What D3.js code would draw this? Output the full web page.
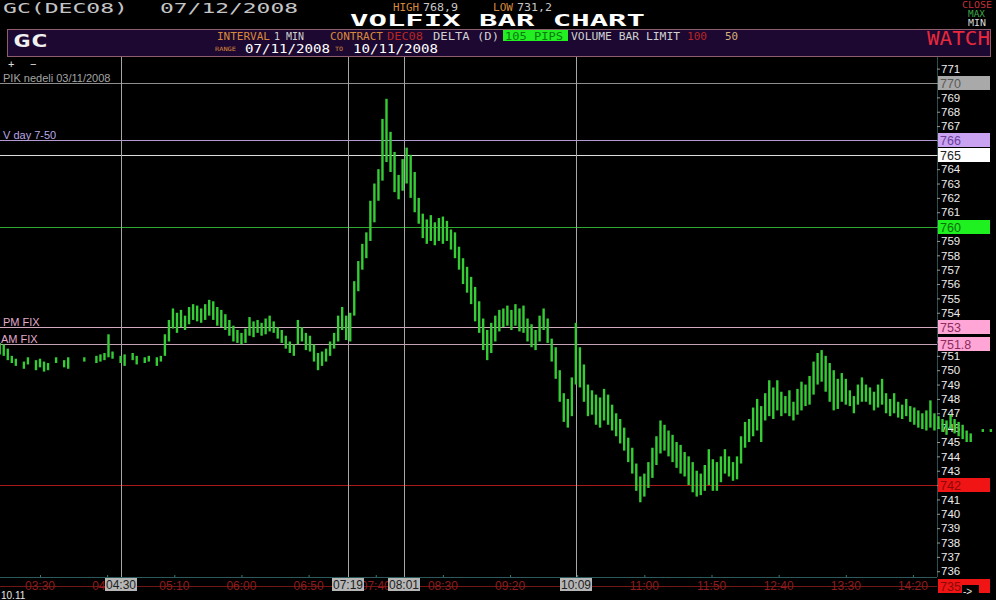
<!DOCTYPE html>
<html><head><meta charset="utf-8">
<script src="https://cdn.jsdelivr.net/npm/d3@7"></script>
<style>html,body{margin:0;padding:0;background:#000;overflow:hidden}</style>
</head><body>
<svg id="c" width="996" height="600"></svg>
<script>
// ---------------- DATA ----------------
const firstBarTime = "03:00";
const barMinutes = 3;
const highs = [
751.9,751.8,751.5,751.0,750.8,null,750.6,750.9,null,750.7,
750.8,750.6,750.5,null,750.9,null,750.7,750.9,null,null,
null,750.9,null,null,751.0,751.1,751.2,752.5,751.3,null,
751.0,751.1,null,751.2,751.0,null,750.9,751.0,null,750.9,
751.0,752.5,753.5,754.3,754.0,754.2,753.8,754.4,754.6,754.5,
754.3,754.6,754.9,754.8,754.4,754.2,753.9,753.5,753.1,752.8,
752.6,752.9,753.7,753.4,753.5,753.3,753.6,753.8,753.4,753.0,
752.8,752.4,752.0,751.8,753.5,753.0,752.6,752.4,751.8,751.2,
751.3,751.5,752.0,752.6,753.8,754.4,753.8,754.0,756.2,757.6,
758.8,759.6,761.8,763.0,764.0,767.5,768.9,766.6,765.2,763.6,
764.7,765.5,765.0,763.8,762.0,760.9,760.5,760.8,760.3,760.6,
760.7,760.4,759.8,759.6,758.6,757.8,757.2,756.5,755.8,754.8,
753.6,752.8,753.3,753.8,754.2,754.3,754.5,754.2,754.6,754.3,
754.5,753.6,753.2,752.8,753.8,754.3,753.6,752.2,751.6,750.0,
748.4,748.0,749.5,753.3,751.6,750.4,749.0,748.6,748.3,748.1,
748.7,748.3,747.6,747.0,746.6,746.0,745.3,744.6,743.5,742.6,
742.8,743.6,744.6,745.4,746.5,746.2,745.8,745.5,745.0,744.8,
744.3,744.0,743.6,743.0,742.8,743.4,744.5,743.8,743.6,744.0,
744.5,744.0,743.6,744.0,745.4,746.4,746.6,747.4,748.0,747.5,
748.4,749.3,748.8,749.3,748.5,748.2,748.6,747.8,748.7,749.2,
749.0,749.6,750.6,751.2,751.4,751.0,750.5,750.0,749.4,749.8,
749.4,748.6,748.2,749.0,749.5,749.0,748.8,748.5,749.0,749.4,
748.4,748.0,748.4,747.8,747.6,748.0,747.5,747.4,747.2,747.0,
747.2,747.9,747.0,746.8,746.6,746.5,746.9,746.6,746.4,746.2,
745.8,745.6,null,null,745.9,null,745.9,null,745.9
];
const lows = [
751.1,751.0,750.7,750.5,750.3,null,750.1,750.4,null,750.0,
750.2,749.9,750.0,null,750.5,null,750.2,750.1,null,null,
null,750.6,null,null,750.5,750.6,750.7,750.9,750.8,null,
750.5,750.3,null,750.7,750.4,null,750.5,750.6,null,750.3,
750.6,751.0,752.0,752.9,752.6,753.0,752.8,753.2,753.5,753.4,
753.3,753.5,753.8,753.5,753.1,753.0,752.8,752.4,752.0,751.9,
751.8,751.9,752.4,752.3,752.6,752.4,752.5,752.7,752.6,752.2,
751.9,751.5,751.2,751.0,751.8,752.0,751.4,751.3,750.6,750.0,
750.3,750.6,751.0,751.5,752.0,752.8,752.1,752.0,753.8,755.5,
757.0,757.8,759.0,760.3,761.8,763.2,764.5,763.8,762.4,761.9,
762.5,763.0,762.0,761.0,760.2,759.2,758.8,759.0,758.7,759.0,
758.8,759.0,758.4,757.8,757.0,756.0,755.4,754.6,753.4,752.6,
751.4,750.7,751.2,752.0,752.7,753.0,753.1,752.8,753.1,752.7,
752.6,752.0,751.6,751.4,752.0,752.8,751.9,750.6,749.4,747.8,
746.4,746.0,746.8,749.0,748.8,747.8,746.8,746.9,746.2,746.0,
746.5,746.2,745.8,745.4,744.9,744.4,743.6,742.8,741.6,740.8,
741.2,741.8,742.5,743.4,744.2,744.4,744.0,743.6,743.2,742.8,
742.6,742.0,741.5,741.2,741.3,741.6,742.0,741.6,741.6,742.2,
742.8,742.6,742.3,742.4,743.5,744.6,745.0,745.4,745.8,745.0,
746.5,746.8,746.6,747.2,746.8,747.0,746.8,746.5,746.9,747.2,
747.5,747.6,748.3,749.0,749.2,748.5,747.8,747.2,747.3,747.8,
747.6,747.5,747.0,747.6,747.8,747.8,747.6,747.2,747.4,747.6,
747.0,746.8,747.0,746.7,746.6,746.8,746.4,746.2,746.0,745.9,
745.8,746.0,745.8,745.9,745.7,745.5,745.9,745.6,745.4,745.2,
745.0,745.0,null,null,745.7,null,745.7,null,745.7
];
const priceTicks = [771,770,769,768,767,766,765,764,763,762,761,760,759,758,757,756,755,754,753,752,751,750,749,748,747,746,745,744,743,742,741,740,739,738,737,736];
const levelValues = [770, 766, 765, 760, 753, 751.8, 742, 735];
const levelTexts  = ["770","766","765","760","753","751.8","742","735"];
const levelNotes  = ["PIK nedeli 03/11/2008","V day 7-50","","","PM FIX","AM FIX","",""];
const timeTicks = ["03:30","04:20","05:10","06:00","06:50","07:40","08:30","09:20","10:10","11:00","11:50","12:40","13:30","14:20"];
const markerTimes = ["04:30","07:19","08:01","10:09"];

// ---------------- STYLES ----------------
const levelStyle = {
  770:  {line:"#8e8e8e", box:"#a9a9a9", text:"#5a5a5a", note:"#a4a4a4"},
  766:  {line:"#b49ad2", box:"#c9a2f2", text:"#6b3e9c", note:"#b8a8e2"},
  765:  {line:"#dcdcdc", box:"#ffffff", text:"#222222", note:"#fff"},
  760:  {line:"#2fa82f", box:"#1ff01f", text:"#0b6e0b", note:"#fff"},
  753:  {line:"#d4aac0", box:"#ffa6d6", text:"#8c2c5c", note:"#e2aacb"},
  751.8:{line:"#c2a2b4", box:"#ffa6d6", text:"#8c2c5c", note:"#e2aacb"},
  742:  {line:"#a81a1a", box:"#f01414", text:"#8a0a0a", note:"#fff"},
  735:  {line:"#741616", box:"#f01414", text:"#8a0a0a", note:"#fff"}
};
const toMin = s => { const [h,m] = s.split(":").map(Number); return h*60+m; };

const svg = d3.select("#c");
const W = 996, H = 600, axisX = 937, plotTop = 57, plotBottom = 577;
svg.append("rect").attr("width",W).attr("height",H).attr("fill","#000");

const x = d3.scaleLinear().domain([toMin("03:30"), toMin("14:20")]).range([40, 40 + 650*1.343]);
const y = d3.scaleLinear().domain([735, 770]).range([585.6, 83]);

const mono = "'DejaVu Sans Mono', monospace";
const sans = "'Liberation Sans', Arial, sans-serif";

// ---------------- HEADER ----------------
function t(txt, xx, yy, size, fill, opts={}) {
  const el = svg.append("text").attr("x",xx).attr("y",yy).attr("font-size",size)
    .attr("fill",fill).attr("font-family",opts.family||mono).text(txt);
  if (opts.len) el.attr("textLength",opts.len).attr("lengthAdjust","spacingAndGlyphs");
  if (opts.weight) el.attr("font-weight",opts.weight);
  if (opts.anchor) el.attr("text-anchor",opts.anchor);
  return el;
}
t("GC(DEC08)", 3, 13, 14, "#c4c4c4", {len:125});
t("07/12/2008", 160, 13, 14, "#c4c4c4", {len:138});
t("HIGH", 393, 11, 10, "#d68a3c", {len:26});
t("768,9", 423, 11, 10, "#c8c8c8", {len:35});
t("LOW", 493, 11, 10, "#d68a3c", {len:20});
t("731,2", 517, 11, 10, "#c8c8c8", {len:35});
t("VOLFIX BAR CHART", 350, 26, 15, "#ffffff", {len:295, weight:"bold"});
t("CLOSE", 962, 8, 8, "#c0303a", {len:30});
t("MAX", 968, 17, 8, "#3fa84a", {len:17});
t("MIN", 968, 26, 8, "#dcdcdc", {len:18});

svg.append("rect").attr("x",7.5).attr("y",29.5).attr("width",983).attr("height",27)
  .attr("fill","#1c0830").attr("stroke","#8e5e6e").attr("stroke-width",1);
t("GC", 13, 47, 17, "#f0f0f0", {len:35, weight:"bold"});
const row1 = 39.5;
t("INTERVAL", 217, row1, 10, "#d8883c", {len:53});
t("1 MIN", 274, row1, 10, "#d0d0d0", {len:30});
t("CONTRACT", 330, row1, 10, "#d8883c", {len:53});
t("DEC08", 387, row1, 10, "#b82626", {len:36});
t("DELTA (D)", 433, row1, 10, "#d0d0d0", {len:66});
svg.append("rect").attr("x",503).attr("y",30).attr("width",65).attr("height",11).attr("fill","#22ee22");
t("105 PIPS", 505, row1, 10, "#0b7a10", {len:58});
t("VOLUME BAR LIMIT", 571, row1, 10, "#d0d0d0", {len:109});
t("100", 687, row1, 10, "#b82626", {len:20});
t("50", 725, row1, 10, "#d8b07c", {len:13});
t("RANGE", 215, 51, 6, "#d8883c", {len:21});
t("07/11/2008", 245, 53, 12, "#ffffff", {len:85});
t("TO", 335, 51, 6, "#d8883c", {len:8});
t("10/11/2008", 353, 53, 12, "#ffffff", {len:85});
t("WATCH", 927, 45, 19, "#e8283c", {len:63});

// ---------------- LEVEL LINES ----------------
const levels = levelValues.map((v,i)=>({v, label:levelTexts[i], note:levelNotes[i], s:levelStyle[v]}));
svg.append("g").selectAll("line").data(levels).join("line")
  .attr("x1",0).attr("x2",axisX)
  .attr("y1",d=>Math.round(y(d.v))+0.5).attr("y2",d=>Math.round(y(d.v))+0.5)
  .attr("stroke",d=>d.s.line).attr("stroke-width",1);

// vertical marker lines
svg.append("g").selectAll("line").data(markerTimes).join("line")
  .attr("x1",d=>Math.round(x(toMin(d)))+0.5).attr("x2",d=>Math.round(x(toMin(d)))+0.5)
  .attr("y1",plotTop).attr("y2",plotBottom)
  .attr("stroke","#a6a6a6").attr("stroke-width",1);

// notes
svg.append("g").selectAll("text").data(levels.filter(d=>d.note)).join("text")
  .attr("x",d=>d.v===751.8?1:3).attr("y",d=>Math.round(y(d.v))-1)
  .attr("font-family",sans).attr("font-size",11).attr("fill",d=>d.s.note).text(d=>d.note);

t("+", 8, 68, 11, "#e0e0e0", {family:sans});
t("\u2212", 30, 68, 11, "#e0e0e0", {family:sans});

// ---------------- RIGHT AXIS ----------------
svg.append("line").attr("x1",axisX+0.5).attr("x2",axisX+0.5).attr("y1",plotTop).attr("y2",plotBottom)
  .attr("stroke","#2c5050");
const hiddenByBox = v => levelValues.some(l => Math.abs(l - v) < 0.5);
const yAxis = d3.axisRight(y).tickValues(priceTicks).tickSize(3).tickPadding(1)
  .tickFormat(v => hiddenByBox(v) ? "" : d3.format("d")(v));
const gy = svg.append("g").attr("transform",`translate(${axisX},0)`).call(yAxis);
gy.select(".domain").remove();
gy.selectAll(".tick line").attr("stroke","#8a9a9a");
gy.selectAll(".tick text").attr("fill","#ececec").attr("font-family",sans).attr("font-size",11.5);

// ---------------- BOTTOM AXIS ----------------
svg.append("line").attr("x1",0).attr("x2",axisX).attr("y1",plotBottom+0.5).attr("y2",plotBottom+0.5)
  .attr("stroke","#2c5a5a");
const xAxis = d3.axisTop(x).tickValues(timeTicks.map(toMin)).tickSize(2).tickFormat("");
const gx = svg.append("g").attr("transform",`translate(0,${plotBottom})`).call(xAxis);
gx.select(".domain").remove();
gx.selectAll(".tick line").attr("stroke","#3a7a7a");
const coveredByMarker = s => markerTimes.some(m => Math.abs(toMin(m) - toMin(s)) < 5);
svg.append("g").selectAll("text").data(timeTicks.filter(s => !coveredByMarker(s))).join("text")
  .attr("x",d=>x(toMin(d))).attr("y",590).attr("text-anchor","middle")
  .attr("font-family",sans).attr("font-size",12).attr("fill","#8e1c1c").text(d=>d);

// ---------------- PRICE BARS ----------------
const t0 = toMin(firstBarTime);
const bars = highs.map((h,i)=>({tm:t0+i*barMinutes, h, l:lows[i]})).filter(d=>d.h!=null);
svg.append("g").selectAll("line").data(bars).join("line")
  .attr("x1",d=>x(d.tm)).attr("x2",d=>x(d.tm))
  .attr("y1",d=>y(d.h)).attr("y2",d=>Math.max(y(d.l), y(d.h)+2))
  .attr("stroke","#35cc35").attr("stroke-width",2.4);

// ---------------- LEVEL BOXES ----------------
const lb = svg.append("g").selectAll("g").data(levels).join("g")
  .attr("transform",d=>`translate(938,${Math.round(y(d.v))-7})`);
lb.append("rect").attr("width",52).attr("height",14).attr("fill",d=>d.s.box);
lb.append("text").attr("x",2).attr("y",11.5).attr("font-family",sans).attr("font-size",12.5)
  .attr("fill",d=>d.s.text).text(d=>d.label);

// boxed time markers
const mb = svg.append("g").selectAll("g").data(markerTimes).join("g")
  .attr("transform",d=>`translate(${Math.round(x(toMin(d)))},578)`);
mb.append("rect").attr("x",-16).attr("width",32).attr("height",13).attr("fill","#b6b6b6");
mb.append("text").attr("y",11).attr("text-anchor","middle").attr("font-family",sans)
  .attr("font-size",12).attr("fill","#1e1e1e").text(d=>d);

// misc
t("10.11", 1, 599, 10, "#e8e8e8", {family:sans});
svg.append("rect").attr("x",962).attr("y",585).attr("width",17).attr("height",11).attr("fill","#000");
t("->", 963, 595, 10, "#e8e8e8", {family:sans});
</script>
</body></html>
